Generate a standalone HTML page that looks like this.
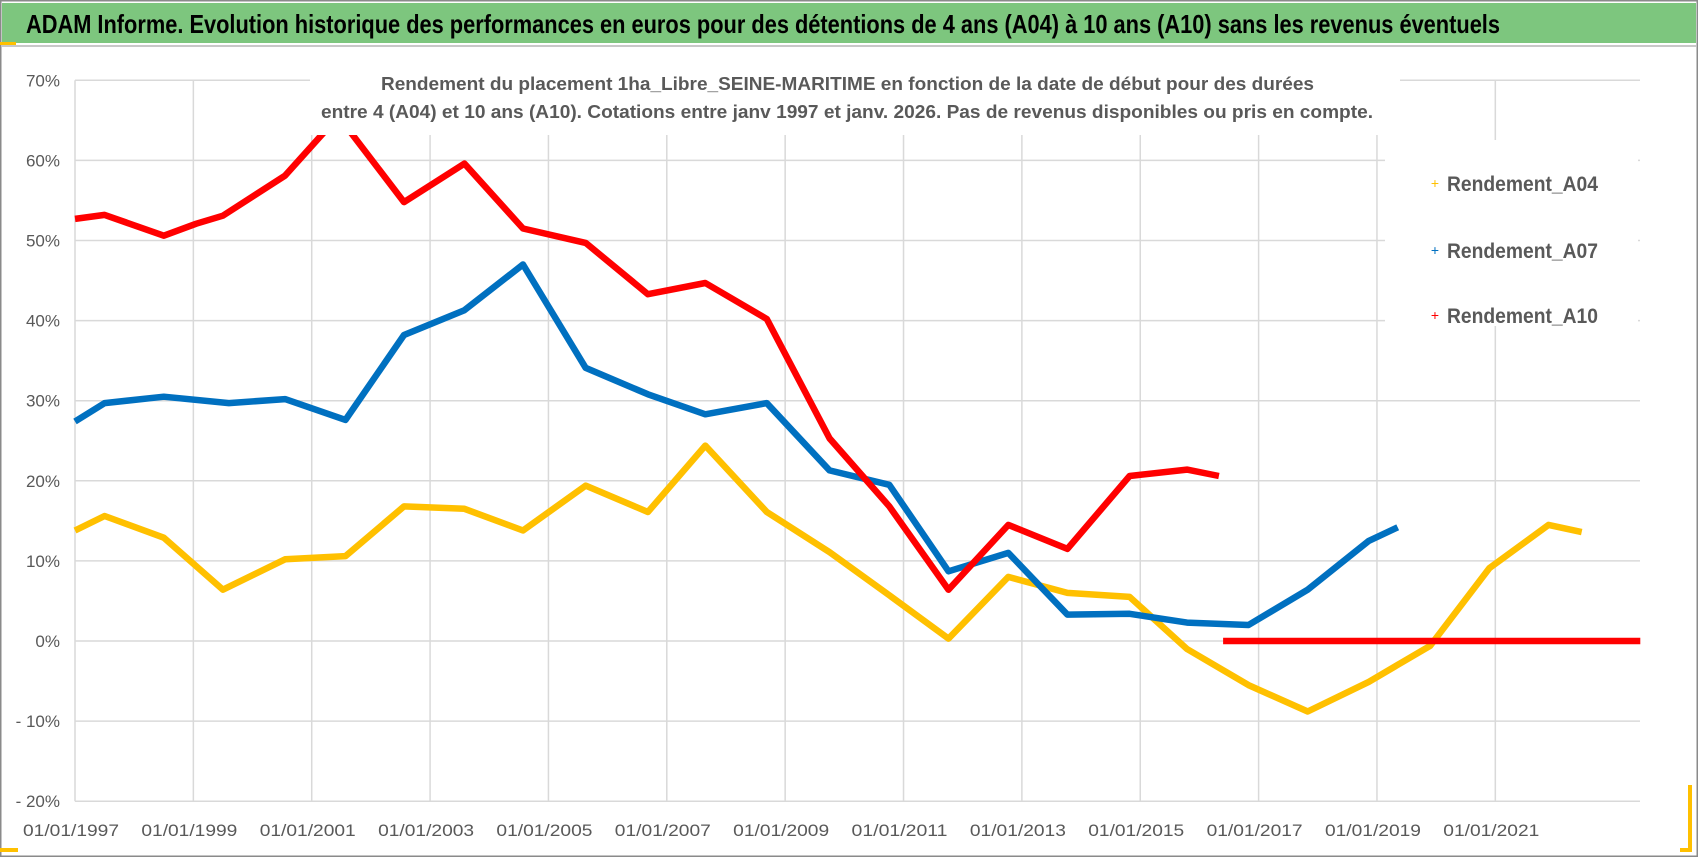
<!DOCTYPE html>
<html><head><meta charset="utf-8"><style>
html,body{margin:0;padding:0;background:#fff;}
svg{display:block;font-family:"Liberation Sans Narrow","Liberation Sans",sans-serif;}
</style></head><body>
<svg id="chart" width="1698" height="857" viewBox="0 0 1698 857">
  <rect x="0.5" y="0.5" width="1697" height="856" fill="#fff" stroke="#8a8a8a" stroke-width="2"/>
  <rect x="2" y="3" width="1694" height="40" fill="#7DC67E"/>
  <line x1="2" y1="46" x2="1696" y2="46" stroke="#c8c8c8" stroke-width="2"/>
  <rect x="0" y="42" width="16" height="3" fill="#FFC000"/>
  <rect x="0" y="848" width="18" height="4" fill="#FFC000"/>
  <rect x="1688" y="785" width="4" height="66" fill="#FFC000"/>
  <rect x="1680" y="848" width="12" height="4" fill="#FFC000"/>
  <text x="26" y="33" font-size="26" font-weight="bold" fill="#000" textLength="1474" lengthAdjust="spacingAndGlyphs">ADAM Informe. Evolution historique des performances en euros pour des détentions de 4 ans (A04) à 10 ans (A10) sans les revenus éventuels</text>
  <g id="grid"></g>
  <g id="axes"></g>
  <g id="series"></g>
  <rect x="310" y="66" width="1090" height="69" fill="#fff"/>
  <text x="381" y="90" font-size="18" font-weight="bold" fill="#595959" textLength="933" lengthAdjust="spacingAndGlyphs">Rendement du placement 1ha_Libre_SEINE-MARITIME  en fonction de la date de début pour des durées</text>
  <text x="321" y="118" font-size="18" font-weight="bold" fill="#595959" textLength="1052" lengthAdjust="spacingAndGlyphs">entre 4 (A04) et 10 ans (A10).  Cotations entre janv 1997 et janv. 2026. Pas de revenus disponibles ou pris en compte.</text>
  <g id="legend">
    <rect x="1385" y="140" width="253" height="186" fill="#fff"/>
  </g>
</svg>
<script>
const years = [1997,1999,2001,2003,2005,2007,2009,2011,2013,2015,2017,2019,2021];
const yTicks = [70,60,50,40,30,20,10,0,-10,-20];
const yTickLabels = ["70%","60%","50%","40%","30%","20%","10%","0%","- 10%","- 20%"];
const seriesNames = ["Rendement_A04","Rendement_A07","Rendement_A10"];
const a04Dates = [1997.0,1997.5,1998.5,1999.5,2000.55,2001.57,2002.56,2003.58,2004.57,2005.63,2006.68,2007.65,2008.69,2009.75,2010.76,2011.76,2012.77,2013.77,2014.82,2015.79,2016.83,2017.83,2018.86,2019.9,2020.9,2021.9,2022.46];
const a04Values = [13.8,15.6,12.9,6.4,10.2,10.6,16.8,16.5,13.8,19.4,16.1,24.4,16.1,11.1,5.7,0.3,8.0,6.0,5.5,-1.0,-5.5,-8.8,-5.1,-0.6,9.1,14.5,13.6];
const a07Dates = [1997.0,1997.5,1998.5,1999.6,2000.55,2001.57,2002.56,2003.58,2004.57,2005.63,2006.68,2007.65,2008.69,2009.75,2010.76,2011.76,2012.77,2013.77,2014.82,2015.79,2016.83,2017.83,2018.86,2019.35];
const a07Values = [27.4,29.7,30.5,29.7,30.2,27.6,38.2,41.3,47.0,34.1,30.8,28.3,29.7,21.3,19.5,8.7,11.0,3.3,3.4,2.3,2.0,6.4,12.5,14.2];
const a10Dates = [1997.0,1997.5,1998.5,1999.05,1999.5,2000.55,2001.45,2002.56,2003.58,2004.57,2005.63,2006.68,2007.65,2008.69,2009.75,2010.76,2011.76,2012.77,2013.77,2014.82,2015.79,2016.33];
const a10Values = [52.7,53.2,50.6,52.1,53.1,58.1,65.5,54.8,59.6,51.5,49.7,43.3,44.7,40.2,25.3,16.8,6.4,14.5,11.5,20.6,21.4,20.6];
const a10ZeroDates = [2016.4,2023.45];
const a10ZeroValues = [0,0];

const NS="http://www.w3.org/2000/svg";
const X0=75, XPY=59.18, Y0=641, YP=8.01;
const xs = d => X0 + (d-1997)*XPY;
const ys = v => Y0 - v*YP;
const XR = 1640;
function mk(tag, attrs, parent){const e=document.createElementNS(NS,tag);for(const k in attrs)e.setAttribute(k,attrs[k]);parent.appendChild(e);return e;}
const grid=document.getElementById('grid'), axes=document.getElementById('axes'), ser=document.getElementById('series');
yTicks.forEach((t,i)=>{
  const l=mk('line',{x1:X0,x2:XR,y1:ys(t),y2:ys(t),stroke:'#d9d9d9','stroke-width':1.5},grid);
  
  
  const tx=mk('text',{x:60,y:ys(t)+6,'font-size':17,fill:'#595959','text-anchor':'end'},axes);
  tx.textContent=yTickLabels[i];
  
  
});
years.forEach(yr=>{
  const l=mk('line',{x1:xs(yr),x2:xs(yr),y1:ys(70),y2:ys(-20),stroke:'#d9d9d9','stroke-width':1.5},grid);
  
  
  const tx=mk('text',{x:xs(yr)-4,y:836,'font-size':17,fill:'#595959','text-anchor':'middle',textLength:96,lengthAdjust:'spacingAndGlyphs'},axes);
  tx.textContent='01/01/'+yr;
  
  
});
function line(dates,vals,color,name){
  const pts=dates.map((d,i)=>xs(d).toFixed(1)+','+ys(vals[i]).toFixed(1)).join(' ');
  const p=mk('polyline',{points:pts,fill:'none',stroke:color,'stroke-width':6.5,'stroke-linejoin':'round'},ser);
  
  
}
line(a04Dates,a04Values,'#FFC000','series-a04');
line(a07Dates,a07Values,'#0070C0','series-a07');
line(a10Dates,a10Values,'#FF0000','series-a10');
line(a10ZeroDates,a10ZeroValues,'#FF0000','series-a10-zero');
const leg=document.getElementById('legend');
const legColors=['#FFC000','#0070C0','#FF0000'];
const legY=[183,250,315];
seriesNames.forEach((n,i)=>{
  const m=mk('text',{x:1435,y:legY[i]+5,'font-size':14,fill:legColors[i],'text-anchor':'middle'},leg);
  m.textContent='+';
  
  
  const t=mk('text',{x:1447,y:legY[i]+8,'font-size':21,'font-weight':'bold',fill:'#595959',textLength:151,lengthAdjust:'spacingAndGlyphs'},leg);
  t.textContent=n;
  
  
});
</script>
</body></html>
